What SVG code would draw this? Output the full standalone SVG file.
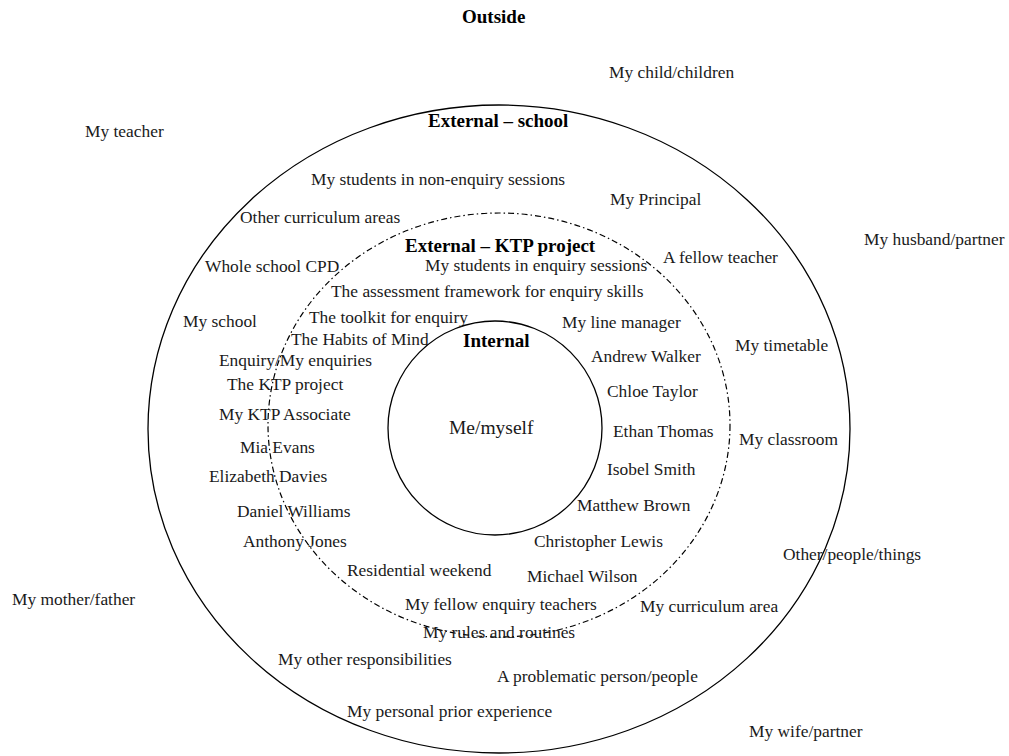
<svg xmlns="http://www.w3.org/2000/svg" width="1009" height="756" viewBox="0 0 1009 756">
<style>
  text { font-family: "Liberation Serif", "Times New Roman", serif; font-size: 17.4px; fill: #1a1a1a; }
  .title { font-weight: bold; font-size: 19px; fill: #000; }
  .ring { fill: none; stroke: #000; stroke-width: 1.3; }
  .dashring { fill: none; stroke: #000; stroke-width: 1.2; stroke-dasharray: 6 3 1.5 3; }
</style>
<rect width="1009" height="756" fill="#fff"/>

<g id="zone-external-school">
  <ellipse class="ring" cx="499" cy="429" rx="351" ry="324"/>
</g>
<g id="zone-external-ktp">
  <ellipse class="dashring" cx="499" cy="425" rx="231" ry="212"/>
</g>
<g id="zone-internal">
  <circle class="ring" cx="495" cy="428" r="107"/>
</g>

<g id="outside-labels">
  <text class="title" x="462" y="23">Outside</text>
  <text x="609" y="78">My child/children</text>
  <text x="85" y="137">My teacher</text>
  <text x="864" y="245">My husband/partner</text>
  <text x="12" y="605">My mother/father</text>
  <text x="749" y="737">My wife/partner</text>
</g>

<g id="school-labels">
  <text class="title" x="428" y="127">External – school</text>
  <text x="311" y="185">My students in non-enquiry sessions</text>
  <text x="610" y="205">My Principal</text>
  <text x="240" y="223">Other curriculum areas</text>
  <text x="663" y="263">A fellow teacher</text>
  <text x="205" y="272">Whole school CPD</text>
  <text x="183" y="327">My school</text>
  <text x="735" y="351">My timetable</text>
  <text x="739" y="445">My classroom</text>
  <text x="783" y="560">Other/people/things</text>
  <text x="640" y="612">My curriculum area</text>
  <text x="278" y="665">My other responsibilities</text>
  <text x="497" y="682">A problematic person/people</text>
  <text x="347" y="717">My personal prior experience</text>
</g>

<g id="ktp-labels">
  <text class="title" x="405" y="252">External – KTP project</text>
  <text x="425" y="271">My students in enquiry sessions</text>
  <text x="331" y="297">The assessment framework for enquiry skills</text>
  <text x="309" y="323">The toolkit for enquiry</text>
  <text x="562" y="328">My line manager</text>
  <text x="291" y="345">The Habits of Mind</text>
  <text x="219" y="366">Enquiry/My enquiries</text>
  <text x="591" y="362">Andrew Walker</text>
  <text x="227" y="390">The KTP project</text>
  <text x="607" y="397">Chloe Taylor</text>
  <text x="219" y="420">My KTP Associate</text>
  <text x="613" y="437">Ethan Thomas</text>
  <text x="240" y="453">Mia Evans</text>
  <text x="607" y="475">Isobel Smith</text>
  <text x="209" y="482">Elizabeth Davies</text>
  <text x="577" y="511">Matthew Brown</text>
  <text x="237" y="517">Daniel Williams</text>
  <text x="243" y="547">Anthony Jones</text>
  <text x="534" y="547">Christopher Lewis</text>
  <text x="347" y="576">Residential weekend</text>
  <text x="527" y="582">Michael Wilson</text>
  <text x="405" y="610">My fellow enquiry teachers</text>
  <text x="423" y="638">My rules and routines</text>
</g>

<g id="internal-labels">
  <text class="title" x="463" y="347">Internal</text>
  <text x="449" y="434" style="font-size:19.5px">Me/myself</text>
</g>

<g id="connectors"></g>
</svg>
